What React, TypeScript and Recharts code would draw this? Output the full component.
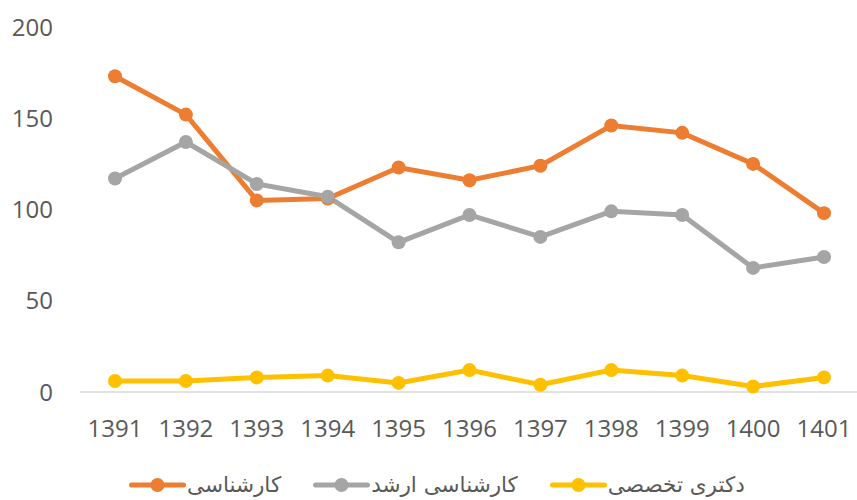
import React from 'react';
import { LineChart, Line, XAxis, YAxis, Legend } from 'recharts';

const years = ['1391', '1392', '1393', '1394', '1395', '1396', '1397', '1398', '1399', '1400', '1401'];
const bachelor = [173, 152, 105, 106, 123, 116, 124, 146, 142, 125, 98];
const master = [117, 137, 114, 107, 82, 97, 85, 99, 97, 68, 74];
const phd = [6, 6, 8, 9, 5, 12, 4, 12, 9, 3, 8];
const yTicks = [0, 50, 100, 150, 200];
const seriesNames = ['کارشناسی', 'کارشناسی ارشد', 'دکتری تخصصی'];
const seriesColors = ['#ED7D31', '#A5A5A5', '#FFC000'];
const seriesKeys = ['b', 'm', 'p'];

const data = years.map((y, i) => ({ year: y, b: bachelor[i], m: master[i], p: phd[i] }));

const renderLegend = () => (
  <div style={{ display: 'flex', gap: 32, alignItems: 'center' }}>
    {seriesNames.map((name, i) => (
      <div key={name} style={{ display: 'flex', alignItems: 'center' }}>
        <svg width={57} height={16} style={{ display: 'block' }}>
          <line x1={2.5} y1={8} x2={54.5} y2={8} stroke={seriesColors[i]} strokeWidth={5} strokeLinecap="round" />
          <circle cx={28.5} cy={8} r={7} fill={seriesColors[i]} />
        </svg>
        <span style={{ fontSize: 21.5, color: '#595959', fontFamily: '"DejaVu Sans", "Noto Sans", sans-serif', whiteSpace: 'nowrap', lineHeight: '24px', marginLeft: 1 }}>
          {name}
        </span>
      </div>
    ))}
  </div>
);

export default function App() {
  const tickStyle = { fontSize: 24, fill: '#595959', fontFamily: '"Open Sans", sans-serif' };
  return (
    <div style={{ position: 'absolute', left: 0, top: 0, width: 857, height: 500, background: '#fff' }}>
      <LineChart width={857} height={500} data={data} margin={{ top: 27, right: 0, bottom: 68, left: 0 }}>
        <XAxis
          dataKey="year"
          height={40}
          tickLine={false}
          axisLine={{ stroke: '#D9D9D9', strokeWidth: 1.5 }}
          tick={tickStyle}
          tickMargin={22}
          padding={{ left: 35, right: 33 }}
          interval={0}
        />
        <YAxis
          width={80}
          domain={[0, 200]}
          ticks={yTicks}
          axisLine={false}
          tickLine={false}
          tick={tickStyle}
          tickMargin={21}
          interval={0}
        />
        {seriesKeys.map((k, i) => (
          <Line
            key={k}
            dataKey={k}
            name={seriesNames[i]}
            stroke={seriesColors[i]}
            strokeWidth={5}
            dot={{ r: 7, fill: seriesColors[i], stroke: seriesColors[i], strokeWidth: 0 }}
            activeDot={false}
            isAnimationActive={false}
          />
        ))}
        <Legend
          layout="horizontal"
          verticalAlign="middle"
          align="center"
          content={renderLegend}
          wrapperStyle={{ left: 129, top: 473, bottom: 'auto', width: 'auto', height: 'auto' }}
        />
      </LineChart>
    </div>
  );
}
